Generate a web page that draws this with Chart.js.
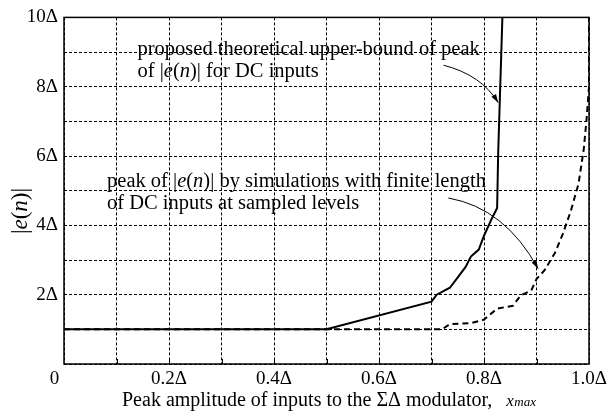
<!DOCTYPE html>
<html>
<head>
<meta charset="utf-8">
<script src="https://cdn.jsdelivr.net/npm/chart.js@4"></script>
<style>
  html, body { margin: 0; padding: 0; background: #fff; }
  #wrap { width: 611px; height: 417px; }
</style>
</head>
<body>
<div id="wrap"><canvas id="chart" width="611" height="417"></canvas></div>
<script>
// theoretical upper bound (solid)
const boundX = [0, 0.5, 0.7, 0.71, 0.735, 0.75, 0.765, 0.775, 0.79, 0.80, 0.815, 0.825, 0.827, 0.835];
const boundY = [1, 1, 1.8, 2.0, 2.2, 2.5, 2.8, 3.1, 3.3, 3.7, 4.2, 4.5, 6.1, 10];

// simulated peak (dashed)
const simX = [0, 0.72, 0.735, 0.775, 0.80, 0.825, 0.855, 0.87, 0.89, 0.90, 0.915, 0.935, 0.95, 0.965, 0.98, 0.99, 0.995, 1.0, 1.0];
const simY = [1, 1, 1.15, 1.18, 1.28, 1.6, 1.68, 1.98, 2.12, 2.45, 2.7, 3.2, 3.75, 4.4, 5.2, 6.2, 7.0, 8.0, 10];

const xTickLabels = ['0\u2003', '', '0.2Δ', '', '0.4Δ', '', '0.6Δ', '', '0.8Δ', '', '1.0Δ'];
const yTickLabels = ['', '', '2Δ', '', '4Δ', '', '6Δ', '', '8Δ', '', '10Δ'];

const FONT = '"Liberation Serif", "Times New Roman", serif';

// annotation text lines, anchored in data units (left, middle)
const notes = [
  { x: 0.140, y: 9.08, runs: [['proposed theoretical upper-bound of peak', '']] },
  { x: 0.140, y: 8.45, runs: [['of |', ''], ['e', 'italic'], ['(', ''], ['n', 'italic'], [')| for DC inputs', '']] },
  { x: 0.082, y: 5.27, runs: [['peak of |', ''], ['e', 'italic'], ['(', ''], ['n', 'italic'], [')| by simulations with finite length', '']] },
  { x: 0.082, y: 4.64, runs: [['of DC inputs at sampled levels', '']] }
];

// curved arrows: start, control, end (data units)
const arrows = [
  [[0.723, 8.62], [0.795, 8.34], [0.827, 7.54]],
  [[0.732, 4.79], [0.840, 4.50], [0.903, 2.75]]
];

function drawRuns(ctx, runs, x, y, size) {
  let cx = x;
  runs.forEach(([t, style]) => {
    ctx.font = `${style} ${size}px ${FONT}`;
    ctx.fillText(t, cx, y);
    cx += ctx.measureText(t).width;
  });
  return cx;
}

const extras = {
  id: 'extras',
  beforeDatasetsDraw(chart) {
    const { ctx, chartArea: a, scales: { x } } = chart;
    ctx.save();
    ctx.strokeStyle = '#000';
    ctx.lineWidth = 1.5;
    ctx.strokeRect(a.left, a.top, a.right - a.left, a.bottom - a.top);
    // small inward ticks on the bottom axis
    ctx.lineWidth = 1;
    for (let i = 1; i < 10; i++) {
      const px = Math.round(x.getPixelForValue(i / 10)) + 0.5;
      ctx.beginPath();
      ctx.moveTo(px, a.bottom);
      ctx.lineTo(px, a.bottom - 5);
      ctx.stroke();
    }
    ctx.restore();
  },
  afterDatasetsDraw(chart) {
    const { ctx, scales: { x, y } } = chart;
    ctx.save();
    ctx.fillStyle = '#000';
    ctx.strokeStyle = '#000';
    ctx.textBaseline = 'middle';
    ctx.textAlign = 'left';
    notes.forEach(n => drawRuns(ctx, n.runs, x.getPixelForValue(n.x), y.getPixelForValue(n.y), 20.5));

    ctx.lineWidth = 1;
    arrows.forEach(([s, c, e]) => {
      const p0 = [x.getPixelForValue(s[0]), y.getPixelForValue(s[1])];
      const p1 = [x.getPixelForValue(c[0]), y.getPixelForValue(c[1])];
      const p2 = [x.getPixelForValue(e[0]), y.getPixelForValue(e[1])];
      ctx.beginPath();
      ctx.moveTo(p0[0], p0[1]);
      ctx.quadraticCurveTo(p1[0], p1[1], p2[0], p2[1]);
      ctx.stroke();
      const ang = Math.atan2(p2[1] - p1[1], p2[0] - p1[0]);
      const len = 9, spread = 0.3;
      ctx.beginPath();
      ctx.moveTo(p2[0], p2[1]);
      ctx.lineTo(p2[0] - len * Math.cos(ang - spread), p2[1] - len * Math.sin(ang - spread));
      ctx.lineTo(p2[0] - len * Math.cos(ang + spread), p2[1] - len * Math.sin(ang + spread));
      ctx.closePath();
      ctx.fill();
    });

    // axis titles
    ctx.textBaseline = 'alphabetic';
    const end = drawRuns(ctx, [['Peak amplitude of inputs to the ΣΔ modulator,', '']], 122, 406, 20);
    drawRuns(ctx, [['x', 'italic']], end + 14, 406, 17);
    drawRuns(ctx, [['max', 'italic']], end + 22, 406, 13);

    ctx.translate(27, 211);
    ctx.rotate(-Math.PI / 2);
    const yRuns = [['|', ''], ['e', 'italic'], ['(', ''], ['n', 'italic'], [')|', '']];
    let w = 0;
    yRuns.forEach(([t, st]) => { ctx.font = `${st} 23px ${FONT}`; w += ctx.measureText(t).width; });
    drawRuns(ctx, yRuns, -w / 2, 0, 23);
    ctx.restore();
  }
};

const gridStyle = { color: '#000', lineWidth: 1, drawTicks: false };

new Chart(document.getElementById('chart'), {
  type: 'line',
  data: {
    datasets: [
      {
        label: 'upper bound',
        data: boundX.map((v, i) => ({ x: v, y: boundY[i] })),
        borderColor: '#000',
        borderWidth: 2,
        pointRadius: 0,
        tension: 0
      },
      {
        label: 'simulation',
        data: simX.map((v, i) => ({ x: v, y: simY[i] })),
        borderColor: '#000',
        borderWidth: 2,
        borderDash: [6, 4],
        pointRadius: 0,
        tension: 0
      }
    ]
  },
  options: {
    responsive: false,
    animation: false,
    layout: { padding: { top: 15, right: 20, left: 0, bottom: 0 } },
    plugins: { legend: { display: false }, tooltip: { enabled: false } },
    scales: {
      x: {
        type: 'linear',
        min: 0,
        max: 1,
        grid: { ...gridStyle },
        border: { display: false, dash: [3, 2] },
        ticks: {
          stepSize: 0.1,
          padding: 4,
          color: '#000',
          font: { family: FONT, size: 19 },
          maxRotation: 0,
          autoSkip: false,
          callback: v => xTickLabels[Math.round(v * 10)]
        },
        afterFit: s => { s.height = 53; }
      },
      y: {
        min: 0,
        max: 10,
        grid: { ...gridStyle },
        border: { display: false, dash: [3, 2] },
        ticks: {
          stepSize: 1,
          padding: 6,
          color: '#000',
          font: { family: FONT, size: 19 },
          autoSkip: false,
          callback: v => yTickLabels[Math.round(v)]
        },
        afterFit: s => { s.width = 64; }
      }
    }
  },
  plugins: [extras]
});
</script>
</body>
</html>
